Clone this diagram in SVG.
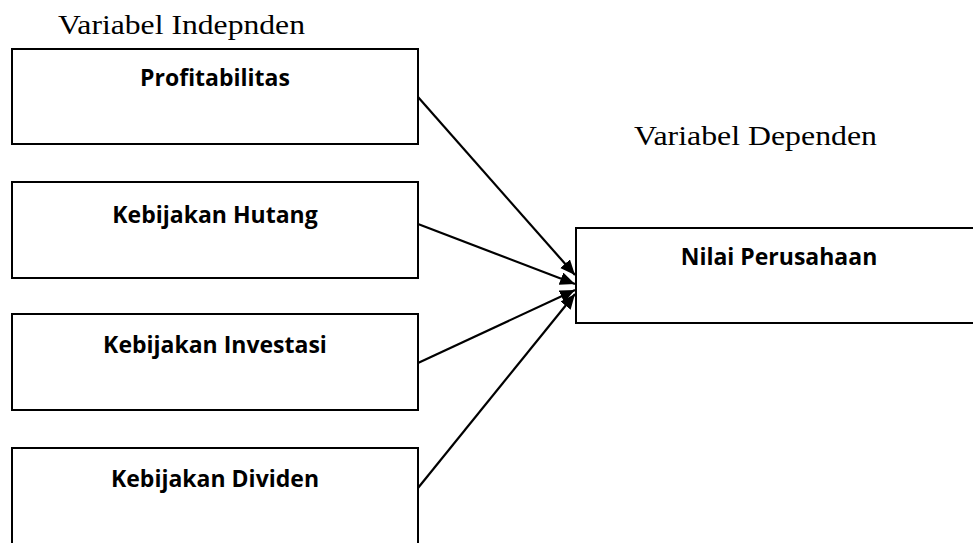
<svg xmlns="http://www.w3.org/2000/svg" width="973" height="543" viewBox="0 0 973 543">
<style>
.box{fill:#fff;stroke:#000;stroke-width:2}
.lbl{font-family:"Open Sans","Liberation Sans",sans-serif;font-weight:bold;font-size:23px;fill:#000;text-anchor:middle}
.hdr{font-family:"Liberation Serif","Times New Roman",serif;font-size:28px;fill:#000}
.arr{stroke:#000;stroke-width:2.2;fill:none;marker-end:url(#ah)}
</style>
<defs>
<marker id="ah" markerUnits="userSpaceOnUse" markerWidth="16" markerHeight="14" refX="15" refY="6.5" orient="auto">
<path d="M0,0 L15,6.5 L0,13 z" fill="#000"/>
</marker>
</defs>
<rect width="973" height="543" fill="#fff"/>
<text class="hdr" x="58" y="34" textLength="247" lengthAdjust="spacingAndGlyphs">Variabel Indepnden</text>
<text class="hdr" x="634" y="145" textLength="243" lengthAdjust="spacingAndGlyphs">Variabel Dependen</text>
<g id="profitabilitas">
<rect class="box" x="12" y="49" width="406" height="95"/>
<text class="lbl" x="215" y="86">Profitabilitas</text>
</g>
<g id="kebijakan-hutang">
<rect class="box" x="12" y="182" width="406" height="96"/>
<text class="lbl" x="215" y="223">Kebijakan Hutang</text>
</g>
<g id="kebijakan-investasi">
<rect class="box" x="12" y="314" width="406" height="96"/>
<text class="lbl" x="215" y="353">Kebijakan Investasi</text>
</g>
<g id="kebijakan-dividen">
<rect class="box" x="12" y="448" width="406" height="110"/>
<text class="lbl" x="215" y="487">Kebijakan Dividen</text>
</g>
<g id="nilai-perusahaan">
<rect class="box" x="576" y="228" width="420" height="95"/>
<text class="lbl" x="779" y="265">Nilai Perusahaan</text>
</g>
<g id="connectors">
<line class="arr" x1="418" y1="97" x2="575" y2="275"/>
<line class="arr" x1="418" y1="224" x2="575" y2="284"/>
<line class="arr" x1="418" y1="363" x2="575" y2="290"/>
<line class="arr" x1="418" y1="488" x2="575" y2="294"/>
</g>
</svg>
